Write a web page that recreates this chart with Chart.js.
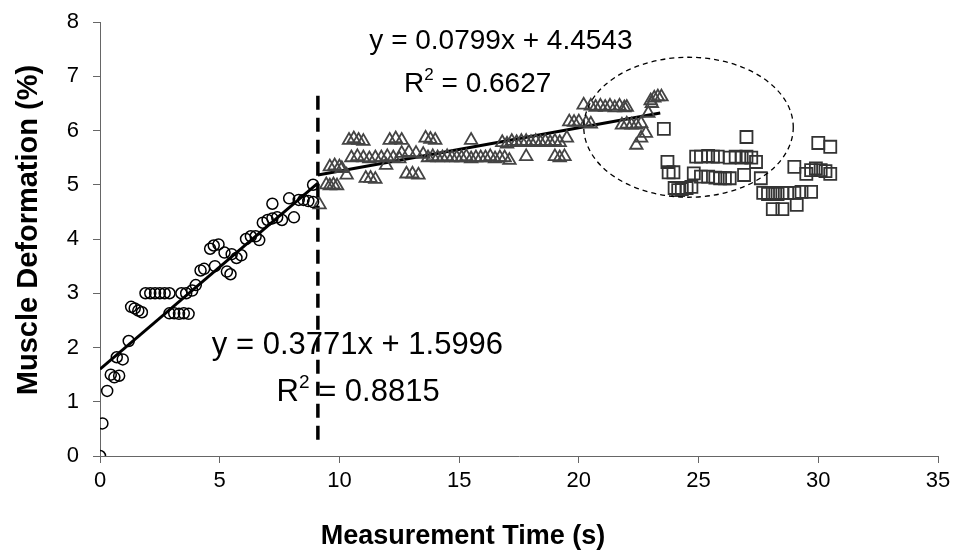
<!DOCTYPE html>
<html><head><meta charset="utf-8">
<script src="https://cdn.jsdelivr.net/npm/chart.js@4.4.1/dist/chart.umd.min.js"></script>
<style>html,body{margin:0;padding:0;background:#fff}canvas{display:block}</style>
</head><body>
<canvas id="c" width="956" height="554"></canvas>
<script>
// ---- data ----
const circleX = [0,0.1,0.3,0.45,0.6,0.8,0.7,0.95,1.2,1.3,1.45,1.6,1.75,1.9,2.1,2.3,2.5,2.7,2.9,2.9,3.1,3.3,3.5,3.7,3.4,3.6,3.85,4.0,4.2,4.35,4.8,4.6,4.75,4.95,5.3,5.45,5.2,5.5,5.7,5.9,6.1,6.3,6.5,6.65,6.8,7.0,7.2,7.4,7.6,7.2,7.9,8.1,8.3,8.5,8.7,8.9,8.9];
const circleY = [0,0.6,1.2,1.5,1.45,1.48,1.82,1.78,2.12,2.75,2.72,2.68,2.65,3.0,3.0,3.0,3.0,3.0,3.0,2.63,2.63,2.62,2.63,2.62,3.0,3.0,3.05,3.15,3.42,3.45,3.5,3.82,3.88,3.9,3.4,3.35,3.75,3.72,3.65,3.7,4.0,4.05,4.05,3.98,4.3,4.35,4.38,4.4,4.35,4.65,4.75,4.4,4.72,4.72,4.7,4.68,5.0];
const triX = [9.17,9.45,9.6,9.75,9.9,9.6,9.8,10.0,10.1,10.3,10.4,10.6,10.8,11.0,10.5,10.75,11.0,11.25,11.5,11.75,12.0,12.25,12.5,11.1,11.3,11.5,11.95,12.1,12.35,12.6,12.8,13.05,13.3,12.6,12.9,13.2,13.5,13.6,13.8,14.0,13.7,13.9,14.1,14.3,14.5,14.7,14.9,15.1,15.3,15.5,15.7,15.9,16.1,16.3,16.5,16.7,16.9,17.1,15.5,16.8,17.0,17.2,17.4,17.6,17.8,18.0,18.2,18.4,18.6,18.8,19.0,19.2,17.8,19.0,19.2,19.4,19.5,19.6,19.8,20.0,20.3,20.5,20.2,20.5,20.7,20.9,21.1,21.3,21.5,21.7,21.9,22.0,21.8,22.0,22.2,22.4,22.6,22.9,22.8,22.6,22.4,23.0,23.15,23.3,23.45,23.05];
const triY = [4.63,5.0,4.98,5.0,4.98,5.33,5.35,5.33,5.3,5.18,5.82,5.85,5.82,5.8,5.5,5.52,5.5,5.48,5.5,5.5,5.52,5.5,5.48,5.12,5.12,5.1,5.36,5.82,5.85,5.82,5.2,5.2,5.18,5.58,5.6,5.58,5.56,5.86,5.84,5.82,5.5,5.52,5.5,5.5,5.52,5.5,5.5,5.5,5.52,5.48,5.5,5.5,5.5,5.52,5.48,5.5,5.5,5.45,5.82,5.78,5.75,5.8,5.78,5.8,5.8,5.78,5.8,5.78,5.8,5.78,5.8,5.78,5.52,5.52,5.5,5.52,5.86,6.16,6.15,6.16,6.14,6.12,6.47,6.45,6.43,6.45,6.43,6.45,6.42,6.45,6.42,6.43,6.1,6.12,6.1,6.1,6.13,6.32,5.95,5.86,5.73,6.55,6.6,6.62,6.62,6.5];
const sqX = [23.55,23.7,23.75,23.95,24.0,24.15,24.3,24.5,24.7,24.8,24.9,25.1,25.4,25.6,25.8,25.1,25.4,25.7,25.9,26.1,26.3,26.3,26.55,26.8,27.0,27.2,27.4,27.0,26.9,27.6,27.7,27.9,28.1,28.3,28.5,28.7,29.0,28.1,28.5,29.1,29.3,29.7,29.0,29.5,29.7,29.9,30.1,30.3,30.5,30.0,30.5];
const sqY = [6.03,5.42,5.23,5.23,4.94,4.9,4.92,4.94,4.96,5.21,5.52,5.52,5.53,5.52,5.52,5.15,5.15,5.13,5.12,5.12,5.12,5.5,5.52,5.5,5.52,5.5,5.42,5.88,5.18,5.12,4.85,4.83,4.85,4.83,4.85,4.85,4.85,4.55,4.55,4.63,4.87,4.87,5.33,5.2,5.27,5.3,5.27,5.25,5.2,5.77,5.7];
const fit1Coef = [0.3771, 1.5996];   // slope, intercept
const fit1Range = [0, 9.1];
const fit2Coef = [0.0799, 4.4543];
const fit2Range = [9.1, 23.4];
const breakX = 9.1;
const breakRange = [0.3, 6.72];
const eqTexts = ['y = 0.0799x + 4.4543', '0.6627', 'y = 0.3771x + 1.5996', '0.8815'];
const xTicks = [0,5,10,15,20,25,30,35];
const yTicks = [0,1,2,3,4,5,6,7,8];
const xTitle = 'Measurement Time (s)';
const yTitle = 'Muscle Deformation (%)';

// ---- build ----
const pts = (xs, ys) => xs.map((x,i)=>({x, y:ys[i]}));
const fitPts = (c, r) => r.map(x=>({x, y:c[0]*x+c[1]}));
const FONT = "'Liberation Sans', Arial, sans-serif";

// annotation placement (data coordinates) and sizes
const labelLayout = [
  {x:11.25, y:7.5, size:28, r2:false},
  {x:12.7, y:6.71, size:28, r2:true},
  {x:4.67, y:1.88, size:31, r2:false},
  {x:7.375, y:1.02, size:31, r2:true}
];
const ellipseLayout = {cx:24.58, cy:6.06, rx:4.375, ry:1.29};

const overlay = {
  id:'overlay',
  afterDatasetsDraw(chart){
    const {ctx, scales:{x, y}} = chart;
    ctx.save();
    const e = ellipseLayout;
    const cx = x.getPixelForValue(e.cx), cy = y.getPixelForValue(e.cy);
    const rx = x.getPixelForValue(e.cx+e.rx)-cx;
    const ry = cy - y.getPixelForValue(e.cy+e.ry);
    ctx.beginPath();
    ctx.setLineDash([5,4]);
    ctx.lineWidth = 1.3;
    ctx.strokeStyle = '#000';
    ctx.ellipse(cx, cy, rx, ry, 0, 0, Math.PI*2);
    ctx.stroke();
    ctx.setLineDash([]);
    ctx.fillStyle = '#000';
    ctx.textBaseline = 'alphabetic';
    ctx.textAlign = 'left';
    labelLayout.forEach((l,i)=>{
      const px = x.getPixelForValue(l.x), py = y.getPixelForValue(l.y);
      const f = l.size + 'px ' + FONT;
      ctx.font = f;
      if (!l.r2) { ctx.fillText(eqTexts[i], px, py); }
      else {
        ctx.fillText('R', px, py);
        let w = ctx.measureText('R').width;
        ctx.font = Math.round(l.size*0.62) + 'px ' + FONT;
        ctx.fillText('2', px + w, py - l.size*0.42);
        w += ctx.measureText('2').width;
        ctx.font = f;
        ctx.fillText(' = ' + eqTexts[i], px + w, py);
      }
    });
    // axis titles
    ctx.font = 'bold 27px ' + FONT;
    ctx.textAlign = 'center';
    ctx.textBaseline = 'middle';
    ctx.fillText(xTitle, 463, 537);
    ctx.save();
    ctx.translate(29, 230);
    ctx.rotate(-Math.PI/2);
    ctx.font = 'bold 29px ' + FONT;
    ctx.fillText(yTitle, 0, 0);
    ctx.restore();
    ctx.restore();
  }
};

new Chart(document.getElementById('c'), {
  type:'scatter',
  data:{datasets:[
    {data:pts(circleX,circleY), pointStyle:'circle', pointRadius:5.5, borderColor:'#000', backgroundColor:'rgba(0,0,0,0)', pointBorderWidth:1.5},
    {data:pts(triX,triY), pointStyle:'triangle', pointRadius:7.2, borderColor:'#444', backgroundColor:'rgba(0,0,0,0)', pointBorderWidth:1.8},
    {data:pts(sqX,sqY), pointStyle:'rect', pointRadius:8.5, borderColor:'#333', backgroundColor:'rgba(0,0,0,0)', pointBorderWidth:1.8},
    {type:'line', data:fitPts(fit1Coef, fit1Range), borderColor:'#000', borderWidth:3, pointRadius:0, showLine:true},
    {type:'line', data:fitPts(fit2Coef, fit2Range), borderColor:'#000', borderWidth:3, pointRadius:0, showLine:true},
    {type:'line', data:breakRange.map(v=>({x:breakX, y:v})), borderColor:'#000', borderWidth:3.5, borderDash:[14,8], pointRadius:0, showLine:true}
  ]},
  options:{
    responsive:false, animation:false, devicePixelRatio:1,
    layout:{padding:{top:22, right:18, left:0, bottom:0}},
    plugins:{legend:{display:false}, tooltip:{enabled:false}},
    scales:{
      x:{type:'linear', min:0, max:35,
        afterBuildTicks:s=>{s.ticks = xTicks.map(v=>({value:v}));},
        afterFit:s=>{s.height = 98; s.paddingLeft = 0; s.paddingRight = 0;},
        ticks:{font:{size:22, family:FONT}, color:'#000', padding:5, maxRotation:0},
        grid:{drawOnChartArea:false, drawTicks:true, tickLength:7, color:'#666'},
        border:{color:'#666', width:1},
        title:{display:false}
      },
      y:{type:'linear', min:0, max:8,
        afterBuildTicks:s=>{s.ticks = yTicks.map(v=>({value:v}));},
        afterFit:s=>{s.width = 100; s.paddingTop = 0; s.paddingBottom = 0;},
        ticks:{font:{size:22, family:FONT}, color:'#000', padding:14},
        grid:{drawOnChartArea:false, drawTicks:true, tickLength:7, color:'#666'},
        border:{color:'#666', width:1},
        title:{display:false}
      }
    }
  },
  plugins:[overlay]
});
</script>
</body></html>
